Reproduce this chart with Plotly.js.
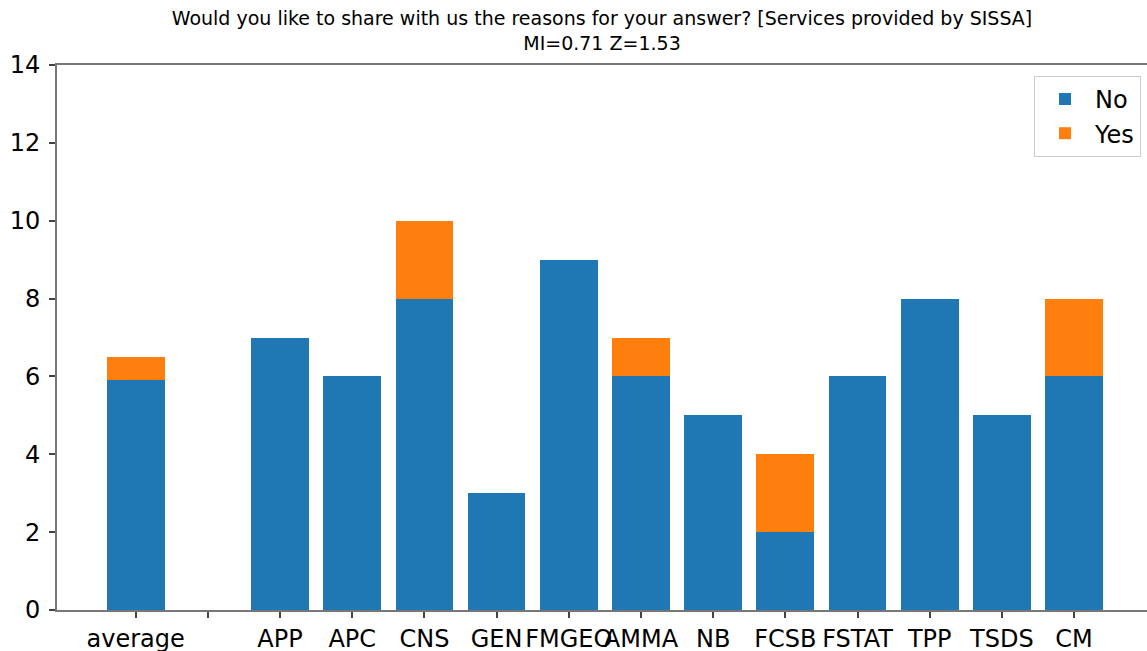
<!DOCTYPE html>
<html>
<head>
<meta charset="utf-8">
<script src="https://cdn.plot.ly/plotly-3.0.1.min.js"></script>
<style>
  body { margin: 0; background: #fff; }
  #chart { width: 1147px; height: 651px; }
</style>
</head>
<body>
<div id="chart"></div>
<script>
// tick labels, position 1 is a blank spacer
var labels = ['average', '', 'APP', 'APC', 'CNS', 'GEN', 'FMGEO', 'AMMA', 'NB', 'FCSB', 'FSTAT', 'TPP', 'TSDS', 'CM'];
var positions = [0, 1, 2, 3, 4, 5, 6, 7, 8, 9, 10, 11, 12, 13];

var noVals  = [5.9, null, 7, 6, 8, 3, 9, 6, 5, 2, 6, 8, 5, 6];
var yesVals = [0.6, null, 0, 0, 2, 0, 0, 1, 0, 2, 0, 0, 0, 2];

var tickFont = {family: 'DejaVu Sans', size: 24, color: '#000'};

var trace1 = {
    x: positions,
    y: noVals,
    type: 'bar',
    name: 'No',
    width: 0.8,
    marker: {color: '#1f77b4'}
};

var trace2 = {
    x: positions,
    y: yesVals,
    type: 'bar',
    name: 'Yes',
    width: 0.8,
    marker: {color: '#ff7f0e'}
};

var layout = {
    width: 1147,
    height: 651,
    margin: {l: 57, r: 0, t: 65, b: 41},
    paper_bgcolor: '#fff',
    plot_bgcolor: '#fff',
    barmode: 'stack',
    showlegend: true,
    title: {
        text: 'Would you like to share with us the reasons for your answer? [Services provided by SISSA]<br>MI=0.71 Z=1.53',
        font: {family: 'DejaVu Sans', size: 19, color: '#000'},
        x: 0.5, xref: 'paper', xanchor: 'center',
        y: 0.961, yref: 'container', yanchor: 'top'
    },
    xaxis: {
        range: [-1.09, 14.01],
        tickvals: positions,
        ticktext: labels,
        tickangle: 0,
        tickfont: tickFont,
        ticks: 'outside', ticklen: 6, tickwidth: 1.5, tickcolor: '#444',
        showline: true, mirror: true, linecolor: '#777', linewidth: 2,
        showgrid: false, zeroline: false
    },
    yaxis: {
        range: [0, 14],
        tickvals: [0, 2, 4, 6, 8, 10, 12, 14],
        tickfont: tickFont,
        ticklabelstandoff: 4,
        ticks: 'outside', ticklen: 6, tickwidth: 1.5, tickcolor: '#444',
        showline: true, linecolor: '#777', linewidth: 2,
        showgrid: false, zeroline: false
    },
    legend: {
        x: 0.9945, xanchor: 'right',
        y: 0.98, yanchor: 'top',
        traceorder: 'normal',
        itemwidth: 50,
        font: {family: 'DejaVu Sans', size: 24, color: '#000'},
        bgcolor: 'rgba(255,255,255,0.8)',
        bordercolor: '#ccc', borderwidth: 1
    }
};

Plotly.newPlot('chart', [trace1, trace2], layout, {displayModeBar: false});
</script>
</body>
</html>
